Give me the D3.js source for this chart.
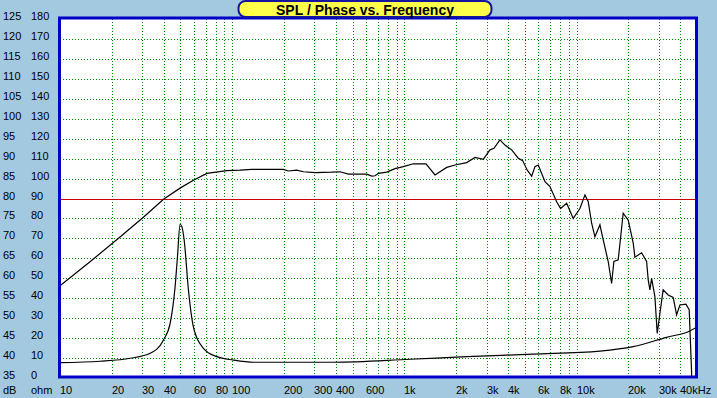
<!DOCTYPE html>
<html>
<head>
<meta charset="utf-8">
<script src="https://cdn.jsdelivr.net/npm/d3@7"></script>
<style>
  html, body { margin: 0; padding: 0; background: #a3c9e1; }
  svg { display: block; }
  text { font-family: "Liberation Sans", Arial, sans-serif; fill: #000; }
</style>
</head>
<body>
<svg id="chart" width="717" height="398"></svg>
<script>
// SPL curve (Hz, dB)
const splFreq = [10, 15, 22.4, 30.5, 39.9, 49.8, 59.5, 71.2, 93, 111, 130, 198, 212, 237, 259, 303, 378, 423, 473, 553,
  604, 646, 675, 706, 790, 882, 985, 1126, 1335, 1505, 1760, 1967, 2299, 2569, 2870, 3140, 3311, 3587, 3835, 4195,
  4583, 4861, 5168, 5482, 5728, 5987, 6549, 7000, 7654, 8075, 8750, 9557, 10450, 11175, 11680, 12223, 12772, 13654,
  14270, 15254, 15962, 16461, 17434, 18640, 19930, 21310, 21800, 23840, 25490, 26040, 26640, 27250, 28480, 29370,
  30450, 31800, 34010, 36370, 38060, 39780, 43090, 45040, 46500, 46600];
const splDb = [58.1, 64.2, 70.4, 75.3, 79.8, 82.6, 84.6, 86.3, 87.0, 87.1, 87.3, 87.3, 86.9, 87.1, 86.7, 86.5, 86.6, 86.7, 86.1, 86.1,
  86.1, 85.6, 85.7, 86.3, 86.6, 87.5, 88.0, 88.7, 88.7, 85.9, 87.8, 88.4, 89.0, 90.3, 89.8, 92.2, 92.6, 94.7, 93.4, 92.2,
  90.1, 89.5, 87.1, 85.6, 88.0, 88.4, 84.2, 83.0, 79.2, 77.5, 78.8, 75.0, 77.5, 80.9, 79.2, 73.8, 70.4, 73.4,
  69.6, 64.2, 58.7, 64.2, 64.6, 76.3, 74.6, 68.8, 65.3, 66.4, 64.2, 59.6, 57.1, 60.0, 55.4, 46.2,
  51.2, 57.1, 55.8, 55.2, 50.8, 53.3, 53.5, 52.1, 36.6, 33];

// impedance curve (Hz, ohm)
const impFreq = [10, 17.1, 25.6, 33.4, 39.9, 43.6, 46.6, 48.1, 49.8, 51.0, 52.6, 55.7, 59.5, 68.1, 81.4, 101.6, 132.8,
  386.7, 1078, 2299, 5599, 13654, 21310, 33290, 45450, 50000];
const impOhm = [7.7, 8.4, 9.9, 12.4, 19.1, 27.4, 45.8, 60.8, 77.1, 75.9, 69.2, 44.1, 25.7, 14.9, 10.7, 9.0, 7.9,
  7.9, 9.4, 10.7, 12.0, 13.5, 15.7, 20.4, 23.6, 25.6];

const dbTicks = d3.range(35, 126, 5);
const ohmTicks = d3.range(0, 181, 10);
const freqLabels = [10, 20, 30, 40, 60, 80, 100, 200, 300, 400, 600, 1000, 2000, 3000, 4000, 6000, 8000, 10000, 20000, 30000, 40000];
const freqLabelText = ['10', '20', '30', '40', '60', '80', '100', '200', '300', '400', '600', '1k', '2k', '3k', '4k', '6k', '8k', '10k', '20k', '30k', '40kHz'];

const pLeft = 60, pRight = 697, pTop = 19, pBottom = 378;

const svg = d3.select('#chart');
const x = d3.scaleLog().domain([10, 50000]).range([pLeft, pRight]);
const y = d3.scaleLinear().domain([35, 125]).range([pBottom, pTop]);
const yOhm = d3.scaleLinear().domain([0, 180]).range([pBottom, pTop]);

svg.append('rect').attr('width', 717).attr('height', 398).attr('fill', '#a3c9e1');
svg.append('rect')
  .attr('x', pLeft).attr('y', pTop)
  .attr('width', pRight - pLeft).attr('height', pBottom - pTop)
  .attr('fill', '#fff');

svg.append('clipPath').attr('id', 'plotClip')
  .append('rect')
  .attr('x', pLeft).attr('y', pTop)
  .attr('width', pRight - pLeft - 2).attr('height', pBottom - pTop - 1);

// grid
const gridFreqs = [];
for (let d = 10; d <= 10000; d *= 10) {
  for (let m = 1; m < 10; m++) {
    const f = d * m;
    if (f > 10 && f < 50000) gridFreqs.push(f);
  }
}
const grid = svg.append('g').attr('clip-path', 'url(#plotClip)').attr('shape-rendering', 'crispEdges');
grid.selectAll('line.v').data(gridFreqs).join('line')
  .attr('x1', d => Math.round(x(d)) + 0.5).attr('x2', d => Math.round(x(d)) + 0.5)
  .attr('y1', pTop).attr('y2', pBottom)
  .attr('stroke', '#008800').attr('stroke-dasharray', '1,2');
grid.selectAll('line.h').data(dbTicks.filter(v => v !== 80 && v > 35 && v < 125)).join('line')
  .attr('x1', pLeft).attr('x2', pRight)
  .attr('y1', d => Math.round(y(d)) + 0.5).attr('y2', d => Math.round(y(d)) + 0.5)
  .attr('stroke', '#008800').attr('stroke-dasharray', '1,2');
grid.append('line')
  .attr('x1', pLeft).attr('x2', pRight)
  .attr('y1', Math.round(y(80)) + 0.5).attr('y2', Math.round(y(80)) + 0.5)
  .attr('stroke', '#d00000');

// curves
const plot = svg.append('g').attr('clip-path', 'url(#plotClip)');
const splLine = d3.line().x(d => x(d[0])).y(d => y(d[1]));
plot.append('path')
  .attr('d', splLine(splFreq.map((f, i) => [f, splDb[i]])))
  .attr('fill', 'none').attr('stroke', '#000').attr('stroke-width', 1.2);
const impLine = d3.line().x(d => x(d[0])).y(d => yOhm(d[1])).curve(d3.curveMonotoneX);
plot.append('path')
  .attr('d', impLine(impFreq.map((f, i) => [f, impOhm[i]])))
  .attr('fill', 'none').attr('stroke', '#000').attr('stroke-width', 1.2);

// frame
svg.append('rect')
  .attr('x', pLeft - 0.5).attr('y', pTop - 1)
  .attr('width', pRight - pLeft).attr('height', pBottom - pTop)
  .attr('fill', 'none').attr('stroke', '#0000c8').attr('stroke-width', 3);

// axis labels
svg.append('g').selectAll('text').data(dbTicks).join('text')
  .attr('x', 3).attr('y', d => y(d) + 1)
  .attr('font-size', 11)
  .text(d => d);
svg.append('g').selectAll('text').data(ohmTicks).join('text')
  .attr('x', 31).attr('y', d => yOhm(d) + 1)
  .attr('font-size', 11)
  .text(d => d);
svg.append('text').attr('x', 3).attr('y', 394).attr('font-size', 11).text('dB');
svg.append('text').attr('x', 31).attr('y', 394).attr('font-size', 11).text('ohm');
svg.append('g').selectAll('text').data(freqLabels).join('text')
  .attr('x', d => Math.round(x(d)))
  .attr('y', 394)
  .attr('font-size', 11)
  .text((d, i) => freqLabelText[i]);

// title
svg.append('rect')
  .attr('x', 238.5).attr('y', 1).attr('width', 253).attr('height', 16)
  .attr('rx', 7).attr('ry', 7)
  .attr('fill', '#ffff4a').attr('stroke', '#1414a0').attr('stroke-width', 2);
svg.append('text')
  .attr('x', 365).attr('y', 14.5)
  .attr('text-anchor', 'middle')
  .attr('font-size', 14).attr('font-weight', 'bold')
  .text('SPL / Phase vs. Frequency');
</script>
</body>
</html>
